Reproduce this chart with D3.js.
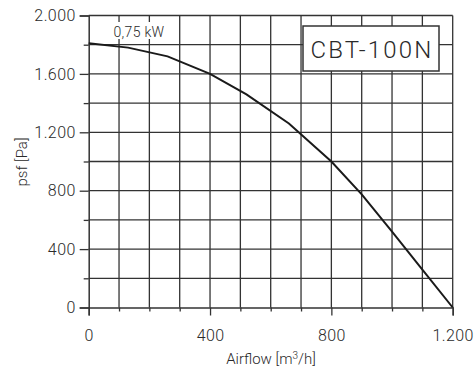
<!DOCTYPE html>
<html><head><meta charset="utf-8">
<script src="https://cdn.jsdelivr.net/npm/d3@7"></script>
<style>body{margin:0;background:#fff}svg{display:block}text{font-family:Roboto,"DejaVu Sans",sans-serif;fill:#2a2a2a;font-weight:300}</style>
</head><body><svg id="c" width="475" height="369"></svg>
<script>
const airflow = [0, 130, 260, 400, 520, 660, 800, 900, 1000, 1100, 1200];
const pressure = [1810, 1780, 1720, 1600, 1460, 1260, 1000, 775, 520, 260, 0];
const xTickLabels = ["0", "400", "800", "1.200"];
const yTickLabels = ["0", "400", "800", "1.200", "1.600", "2.000"];
const xTickValues = [0, 400, 800, 1200];
const yTickValues = [0, 400, 800, 1200, 1600, 2000];
const modelName = "CBT-100N";
const powerLabel = "0,75 kW";

const svg = d3.select("#c");
const x = d3.scaleLinear().domain([0, 1200]).range([88.7, 452.7]);
const y = d3.scaleLinear().domain([0, 2000]).range([307.5, 15.5]);
const ink = "#333";

// grid
const g = svg.append("g");
g.selectAll("line.v").data(d3.range(100, 1201, 100)).join("line")
  .attr("x1", d => x(d)).attr("x2", d => x(d)).attr("y1", y(0)).attr("y2", y(2000))
  .attr("stroke", ink).attr("stroke-width", 1.3);
g.selectAll("line.h").data(d3.range(200, 2001, 200)).join("line")
  .attr("y1", d => y(d)).attr("y2", d => y(d)).attr("x1", x(0)).attr("x2", x(1200))
  .attr("stroke", ink).attr("stroke-width", 1.3);

// axes
const yAxis = d3.axisLeft(y).tickValues(yTickValues).tickSize(9).tickPadding(4)
  .tickFormat((d, i) => yTickLabels[i]);
const ya = svg.append("g").attr("transform", `translate(${x(0)},0)`).call(yAxis);
const xAxis = d3.axisBottom(x).tickValues(xTickValues).tickSize(8).tickPadding(14)
  .tickFormat((d, i) => xTickLabels[i]);
const xa = svg.append("g").attr("transform", `translate(0,${y(0)})`).call(xAxis);
[ya, xa].forEach(a => {
  a.select(".domain").attr("stroke", ink).attr("stroke-width", 1.5);
  a.selectAll(".tick line").attr("stroke", ink).attr("stroke-width", 1.3);
  a.selectAll("text").attr("font-size", 16).attr("fill", "#2a2a2a")
    .style("font-family", "Roboto").style("font-weight", 300).attr("letter-spacing", 0.4);
});
// minor ticks
svg.append("g").attr("transform", `translate(${x(0)},0)`)
  .call(d3.axisLeft(y).tickValues([200, 600, 1000, 1400, 1800]).tickSize(5).tickFormat(""))
  .call(a => { a.select(".domain").remove(); a.selectAll("line").attr("stroke", ink).attr("stroke-width", 1.3); });
svg.append("g").attr("transform", `translate(0,${y(0)})`)
  .call(d3.axisBottom(x).tickValues([100,200,300,500,600,700,900,1000,1100]).tickSize(4).tickFormat(""))
  .call(a => { a.select(".domain").remove(); a.selectAll("line").attr("stroke", ink).attr("stroke-width", 1.3); });

// curve
svg.append("path").datum(airflow.map((a, i) => [a, pressure[i]]))
  .attr("d", d3.line().x(d => x(d[0])).y(d => y(d[1])))
  .attr("fill", "none").attr("stroke", "#1a1a1a").attr("stroke-width", 2);

// power label
svg.append("rect").attr("x", 108).attr("y", 22).attr("width", 62).attr("height", 17).attr("fill", "#fff");
svg.append("text").attr("x", 139).attr("y", 37).attr("text-anchor", "middle")
  .attr("font-size", 14).attr("letter-spacing", 0.3).text(powerLabel);

// model box
svg.append("rect").attr("x", 303).attr("y", 26).attr("width", 136).attr("height", 45)
  .attr("fill", "#fff").attr("stroke", ink).attr("stroke-width", 1.5);
svg.append("text").attr("x", 372).attr("y", 58).attr("text-anchor", "middle")
  .attr("font-size", 24).attr("letter-spacing", 2.2).text(modelName);

// axis titles
svg.append("text").attr("x", 271).attr("y", 364).attr("text-anchor", "middle")
  .attr("font-size", 15).html('Airflow [m<tspan font-size="10" dy="-5">3</tspan><tspan dy="5">/h]</tspan>');
svg.append("text").attr("transform", "translate(27,162) rotate(-90)").attr("text-anchor", "middle")
  .attr("font-size", 15).text("psf [Pa]");
</script></body></html>
